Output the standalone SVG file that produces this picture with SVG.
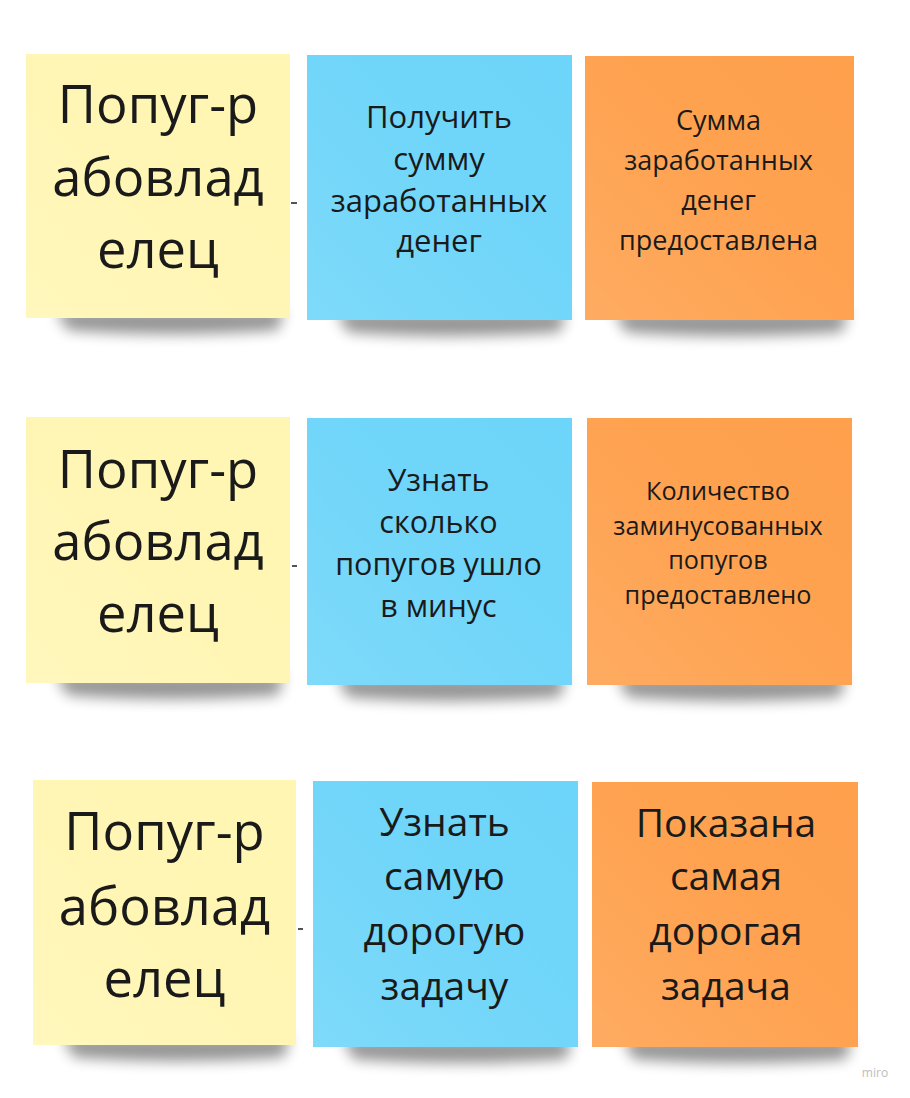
<svg xmlns="http://www.w3.org/2000/svg" width="910" height="1098" viewBox="0 0 910 1098">
  <defs>
    <style>
      .t { font-family: "Open Sans", "Noto Sans", "DejaVu Sans", sans-serif; fill: #1a1a1a; text-anchor: middle; }
      .yel { fill: #fff6b3; }
      .blu { fill: #6dd5f9; }
      .org { fill: #fea04c; }
      .sh { fill: #000; opacity: 0.42; filter: url(#blur); }
      .gl { fill: url(#gloss); }
      .conn { stroke: #1a1a1a; stroke-width: 1.5; }
    </style>
    <filter id="blur" x="-20%" y="-100%" width="140%" height="300%">
      <feGaussianBlur stdDeviation="7"/>
    </filter>
    <linearGradient id="gloss" x1="1" y1="0" x2="0" y2="1">
      <stop offset="0" stop-color="#ffffff" stop-opacity="0"/>
      <stop offset="0.5" stop-color="#ffffff" stop-opacity="0.03"/>
      <stop offset="1" stop-color="#ffffff" stop-opacity="0.12"/>
    </linearGradient>
  </defs>
  <rect width="910" height="1098" fill="#ffffff"/>

  <g id="connectors">
    <line class="conn" x1="291" y1="203" x2="297" y2="203"/>
    <line class="conn" x1="292" y1="566" x2="297" y2="566"/>
    <line class="conn" x1="298" y1="929" x2="303" y2="929"/>
  </g>

  <!-- Row 1 -->
  <g id="n1-actor">
    <path class="sh" d="M55 310 L284 310 L278 330 Q170 338 68 330 Z"/>
    <rect class="yel" x="26" y="54" width="264" height="264"/>
    <rect class="gl" x="26" y="54" width="264" height="264"/>
    <text class="t" font-size="52.5"><tspan x="158" y="123">Попуг-р</tspan><tspan x="158" y="196">абовлад</tspan><tspan x="158" y="268">елец</tspan></text>
  </g>
  <g id="n1-command">
    <path class="sh" d="M336 312 L566 312 L560 332 Q450 340 348 332 Z"/>
    <rect class="blu" x="307" y="55" width="265" height="265"/>
    <rect class="gl" x="307" y="55" width="265" height="265"/>
    <text class="t" font-size="31"><tspan x="439" y="128">Получить</tspan><tspan x="439" y="170">сумму</tspan><tspan x="439" y="212">заработанных</tspan><tspan x="439" y="252">денег</tspan></text>
  </g>
  <g id="n1-event">
    <path class="sh" d="M614 312 L848 312 L842 332 Q730 340 626 332 Z"/>
    <rect class="org" x="585" y="56" width="269" height="264"/>
    <rect class="gl" x="585" y="56" width="269" height="264"/>
    <text class="t" font-size="27"><tspan x="718.5" y="130">Сумма</tspan><tspan x="718.5" y="170">заработанных</tspan><tspan x="718.5" y="210">денег</tspan><tspan x="718.5" y="250">предоставлена</tspan></text>
  </g>

  <!-- Row 2 -->
  <g id="n2-actor">
    <path class="sh" d="M55 675 L284 675 L278 695 Q170 703 68 695 Z"/>
    <rect class="yel" x="26" y="417" width="264" height="266"/>
    <rect class="gl" x="26" y="417" width="264" height="266"/>
    <text class="t" font-size="52.5"><tspan x="158" y="488">Попуг-р</tspan><tspan x="158" y="560">абовлад</tspan><tspan x="158" y="632">елец</tspan></text>
  </g>
  <g id="n2-command">
    <path class="sh" d="M336 677 L566 677 L560 697 Q450 705 348 697 Z"/>
    <rect class="blu" x="307" y="418" width="265" height="267"/>
    <rect class="gl" x="307" y="418" width="265" height="267"/>
    <text class="t" font-size="30.5"><tspan x="438.5" y="491">Узнать</tspan><tspan x="438.5" y="533">сколько</tspan><tspan x="438.5" y="575">попугов ушло</tspan><tspan x="438.5" y="617">в минус</tspan></text>
  </g>
  <g id="n2-event">
    <path class="sh" d="M616 677 L846 677 L840 697 Q730 705 628 697 Z"/>
    <rect class="org" x="587" y="418" width="265" height="267"/>
    <rect class="gl" x="587" y="418" width="265" height="267"/>
    <text class="t" font-size="25.2"><tspan x="718" y="500">Количество</tspan><tspan x="718" y="535">заминусованных</tspan><tspan x="718" y="569">попугов</tspan><tspan x="718" y="604">предоставлено</tspan></text>
  </g>

  <!-- Row 3 -->
  <g id="n3-actor">
    <path class="sh" d="M62 1037 L290 1037 L284 1057 Q176 1065 74 1057 Z"/>
    <rect class="yel" x="33" y="780" width="263" height="265"/>
    <rect class="gl" x="33" y="780" width="263" height="265"/>
    <text class="t" font-size="52.5"><tspan x="164.5" y="850">Попуг-р</tspan><tspan x="164.5" y="925">абовлад</tspan><tspan x="164.5" y="997">елец</tspan></text>
  </g>
  <g id="n3-command">
    <path class="sh" d="M342 1039 L572 1039 L566 1059 Q456 1067 354 1059 Z"/>
    <rect class="blu" x="313" y="781" width="265" height="266"/>
    <rect class="gl" x="313" y="781" width="265" height="266"/>
    <text class="t" font-size="39"><tspan x="444.5" y="836">Узнать</tspan><tspan x="444.5" y="890">самую</tspan><tspan x="444.5" y="945">дорогую</tspan><tspan x="444.5" y="1000">задачу</tspan></text>
  </g>
  <g id="n3-event">
    <path class="sh" d="M622 1039 L852 1039 L846 1059 Q736 1067 634 1059 Z"/>
    <rect class="org" x="592" y="782" width="266" height="265"/>
    <rect class="gl" x="592" y="782" width="266" height="265"/>
    <text class="t" font-size="39"><tspan x="726" y="837">Показана</tspan><tspan x="726" y="890">самая</tspan><tspan x="726" y="945">дорогая</tspan><tspan x="726" y="1000">задача</tspan></text>
  </g>

  <text x="875" y="1077" font-family="Open Sans, sans-serif" font-size="12" fill="#bdbdbd" text-anchor="middle">miro</text>
</svg>
